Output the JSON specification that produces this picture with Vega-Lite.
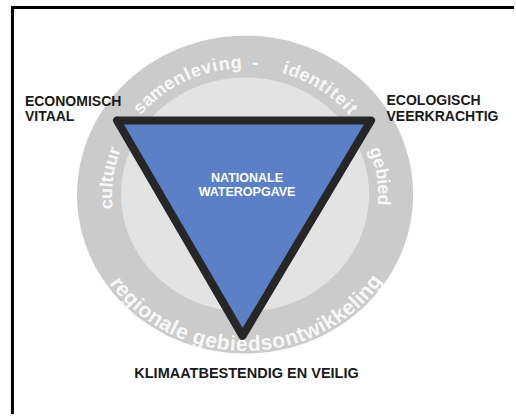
{
  "$schema": "https://vega.github.io/schema/vega-lite/v6.json",
  "width": 516,
  "height": 416,
  "padding": 0,
  "autosize": {"type": "fit", "contains": "padding"},
  "background": "#ffffff",
  "config": {"view": {"stroke": null}},
  "datasets": {
    "frame": [
      {"x": 11, "y": 7.5, "x2": 516, "y2": 7.5},
      {"x": 12.5, "y": 6, "x2": 12.5, "y2": 416}
    ],
    "rings": [
      {"x": 246, "y": 195.5}
    ],
    "triFill": [
      {"x": 117.5, "y": 121},
      {"x": 243.5, "y": 337.5},
      {"x": 372.5, "y": 121}
    ],
    "triEdge": [
      {"i": 0, "x": 117.5, "y": 121},
      {"i": 1, "x": 243.5, "y": 337.5},
      {"i": 2, "x": 372.5, "y": 121},
      {"i": 3, "x": 117.5, "y": 121},
      {"i": 4, "x": 243.5, "y": 337.5}
    ],
    "labelsLeft": [
      {"t": "ECONOMISCH", "x": 25, "y": 107},
      {"t": "VITAAL", "x": 25, "y": 122},
      {"t": "ECOLOGISCH", "x": 388, "y": 106},
      {"t": "VEERKRACHTIG", "x": 388, "y": 121.5}
    ],
    "labelsCenter": [
      {"t": "KLIMAATBESTENDIG EN VEILIG", "x": 247.5, "y": 380}
    ],
    "labelsWhite": [
      {"t": "NATIONALE", "x": 248, "y": 182.5},
      {"t": "WATEROPGAVE", "x": 248, "y": 197}
    ],
    "ringTop": [
      {"c": "s", "x": 140.9, "y": 108.7, "deg": -48.9},
      {"c": "a", "x": 148.6, "y": 101.0, "deg": -44.3},
      {"c": "m", "x": 158.8, "y": 92.5, "deg": -38.7},
      {"c": "e", "x": 170.0, "y": 84.8, "deg": -33.0},
      {"c": "n", "x": 179.9, "y": 79.3, "deg": -28.3},
      {"c": "l", "x": 188.4, "y": 75.3, "deg": -24.4},
      {"c": "e", "x": 196.7, "y": 72.0, "deg": -20.7},
      {"c": "v", "x": 207.3, "y": 68.7, "deg": -16.1},
      {"c": "i", "x": 215.8, "y": 66.6, "deg": -12.5},
      {"c": "n", "x": 225.1, "y": 65.0, "deg": -8.6},
      {"c": "g", "x": 237.0, "y": 63.8, "deg": -3.7},
      {"c": "-", "x": 256.0, "y": 63.9, "deg": 4.1},
      {"c": "i", "x": 286.6, "y": 69.2, "deg": 16.9},
      {"c": "d", "x": 295.3, "y": 72.0, "deg": 20.7},
      {"c": "e", "x": 305.6, "y": 76.2, "deg": 25.3},
      {"c": "n", "x": 315.8, "y": 81.2, "deg": 30.0},
      {"c": "t", "x": 323.8, "y": 85.9, "deg": 33.9},
      {"c": "i", "x": 329.6, "y": 89.8, "deg": 36.8},
      {"c": "t", "x": 335.1, "y": 93.9, "deg": 39.7},
      {"c": "e", "x": 342.0, "y": 99.7, "deg": 43.5},
      {"c": "i", "x": 348.2, "y": 105.6, "deg": 47.1},
      {"c": "t", "x": 352.9, "y": 110.7, "deg": 50.0},
      {"c": "c", "x": 107.9, "y": 205.1, "deg": -94.2},
      {"c": "u", "x": 107.5, "y": 194.4, "deg": -89.5},
      {"c": "l", "x": 107.9, "y": 185.9, "deg": -85.8},
      {"c": "t", "x": 108.4, "y": 180.4, "deg": -83.4},
      {"c": "u", "x": 109.8, "y": 171.6, "deg": -79.5},
      {"c": "u", "x": 112.5, "y": 160.7, "deg": -74.6},
      {"c": "r", "x": 115.5, "y": 151.8, "deg": -70.5},
      {"c": "g", "x": 377.3, "y": 153.7, "deg": 71.4},
      {"c": "e", "x": 380.4, "y": 164.0, "deg": 76.1},
      {"c": "b", "x": 382.7, "y": 174.6, "deg": 80.8},
      {"c": "i", "x": 383.8, "y": 182.7, "deg": 84.4},
      {"c": "e", "x": 384.4, "y": 190.2, "deg": 87.7},
      {"c": "d", "x": 384.4, "y": 201.0, "deg": 92.4}
    ],
    "ringBottom": [
      {"c": "r", "x": 116.9, "y": 284.3, "deg": 234.0},
      {"c": "e", "x": 123.0, "y": 291.7, "deg": 230.4},
      {"c": "g", "x": 131.4, "y": 300.6, "deg": 225.9},
      {"c": "i", "x": 138.2, "y": 306.8, "deg": 222.5},
      {"c": "o", "x": 145.6, "y": 312.8, "deg": 219.0},
      {"c": "n", "x": 156.1, "y": 320.2, "deg": 214.3},
      {"c": "a", "x": 166.4, "y": 326.4, "deg": 209.9},
      {"c": "l", "x": 174.3, "y": 330.4, "deg": 206.7},
      {"c": "e", "x": 182.6, "y": 334.1, "deg": 203.4},
      {"c": "g", "x": 199.9, "y": 340.1, "deg": 196.8},
      {"c": "e", "x": 212.0, "y": 343.0, "deg": 192.3},
      {"c": "b", "x": 224.1, "y": 345.1, "deg": 187.9},
      {"c": "i", "x": 233.8, "y": 346.1, "deg": 184.4},
      {"c": "e", "x": 242.7, "y": 346.5, "deg": 181.2},
      {"c": "d", "x": 255.2, "y": 346.2, "deg": 176.7},
      {"c": "s", "x": 267.4, "y": 345.1, "deg": 172.3},
      {"c": "o", "x": 279.7, "y": 343.1, "deg": 167.8},
      {"c": "n", "x": 292.4, "y": 340.0, "deg": 163.1},
      {"c": "t", "x": 302.1, "y": 336.9, "deg": 159.4},
      {"c": "w", "x": 313.0, "y": 332.6, "deg": 155.2},
      {"c": "i", "x": 323.1, "y": 327.7, "deg": 151.1},
      {"c": "k", "x": 330.8, "y": 323.4, "deg": 147.9},
      {"c": "k", "x": 340.7, "y": 317.0, "deg": 143.6},
      {"c": "e", "x": 349.9, "y": 310.2, "deg": 139.4},
      {"c": "l", "x": 356.5, "y": 304.5, "deg": 136.2},
      {"c": "i", "x": 360.8, "y": 300.4, "deg": 134.0},
      {"c": "n", "x": 367.2, "y": 293.8, "deg": 130.6},
      {"c": "g", "x": 375.3, "y": 284.0, "deg": 125.9}
    ]
  },
  "encoding": {
    "x": {"field": "x", "type": "quantitative", "scale": {"domain": [0, 516], "nice": false, "zero": false}, "axis": null},
    "y": {"field": "y", "type": "quantitative", "scale": {"domain": [0, 416], "nice": false, "zero": false, "reverse": true}, "axis": null}
  },
  "layer": [
    {
      "data": {"name": "frame"},
      "mark": {"type": "rule", "stroke": "#000000", "strokeWidth": 3},
      "encoding": {
        "x2": {"field": "x2"},
        "y2": {"field": "y2"}
      }
    },
    {
      "data": {"name": "rings"},
      "mark": {"type": "point", "filled": true, "fill": "#cbcbcb", "fillOpacity": 1, "strokeWidth": 0, "shape": "M-1,0A1,0.946 0 1,1 1,0A1,0.946 0 1,1 -1,0Z", "size": 112896}
    },
    {
      "data": {"name": "rings"},
      "mark": {"type": "point", "filled": true, "fill": "#e3e3e3", "fillOpacity": 1, "strokeWidth": 0, "shape": "M-1,0A1,0.9435 0 1,1 1,0A1,0.9435 0 1,1 -1,0Z", "size": 61504}
    },
    {
      "data": {"name": "ringTop"},
      "mark": {"type": "text", "font": "Liberation Sans", "fontWeight": "bold", "fontSize": 18, "fill": "#f8f8f8", "align": "center", "baseline": "middle"},
      "encoding": {
        "text": {"field": "c"},
        "angle": {"field": "deg", "type": "quantitative", "scale": null}
      }
    },
    {
      "data": {"name": "ringBottom"},
      "mark": {"type": "text", "font": "Liberation Sans", "fontWeight": "bold", "fontSize": 21, "fill": "#f8f8f8", "align": "center", "baseline": "middle"},
      "encoding": {
        "text": {"field": "c"},
        "angle": {"field": "deg", "type": "quantitative", "scale": {"domain": [0, 360], "range": [-180, 180]}}
      }
    },
    {
      "data": {"name": "triFill"},
      "mark": {"type": "area", "orient": "vertical", "fill": "#5b80c8", "fillOpacity": 1},
      "encoding": {
        "y2": {"datum": 121}
      }
    },
    {
      "data": {"name": "triEdge"},
      "mark": {"type": "line", "stroke": "#262626", "strokeWidth": 8, "strokeJoin": "round", "strokeCap": "round"},
      "encoding": {
        "order": {"field": "i", "type": "quantitative"}
      }
    },
    {
      "data": {"name": "labelsLeft"},
      "mark": {"type": "text", "font": "Liberation Sans", "fontWeight": "bold", "fontSize": 14, "fill": "#1a1a1a", "align": "left", "baseline": "alphabetic"},
      "encoding": {"text": {"field": "t"}}
    },
    {
      "data": {"name": "labelsCenter"},
      "mark": {"type": "text", "font": "Liberation Sans", "fontWeight": "bold", "fontSize": 14.5, "fill": "#1a1a1a", "align": "center", "baseline": "alphabetic"},
      "encoding": {"text": {"field": "t"}}
    },
    {
      "data": {"name": "labelsWhite"},
      "mark": {"type": "text", "font": "Liberation Sans", "fontWeight": "bold", "fontSize": 12.5, "fill": "#ffffff", "align": "center", "baseline": "alphabetic"},
      "encoding": {"text": {"field": "t"}}
    }
  ],
  "resolve": {"scale": {"angle": "independent"}}
}
